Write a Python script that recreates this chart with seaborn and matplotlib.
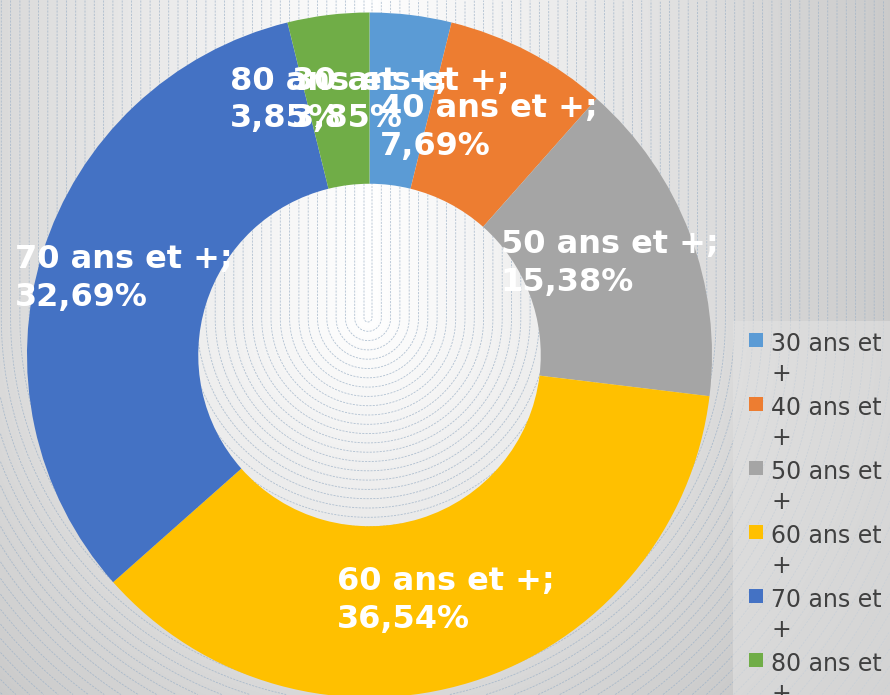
import numpy as np
import matplotlib
matplotlib.use("Agg")
import matplotlib.pyplot as plt
from matplotlib.patches import Rectangle
import seaborn as sns

# ---- data ----
categories = ["30 ans et +", "40 ans et +", "50 ans et +", "60 ans et +", "70 ans et +", "80 ans et +"]
shares = [3.85, 7.69, 15.38, 36.54, 32.69, 3.85]
colors = ["#5B9BD5", "#ED7D31", "#A5A5A5", "#FFC000", "#4472C4", "#70AD47"]

sns.set_theme(style="white")
plt.rcParams["font.family"] = ["DejaVu Sans"]
palette = sns.color_palette(colors)

W, H = 890, 695
fig = plt.figure(figsize=(W / 100, H / 100), dpi=100)

# ---- background: gradient with dashed seams ----
bg = fig.add_axes([0, 0, 1, 1])
bg.set_xlim(0, W)
bg.set_ylim(H, 0)
bg.axis("off")
yy, xx = np.mgrid[0:H, 0:W] + 0.5
fx, fy = 368, 318
f = np.sqrt((xx - fx) ** 2 + np.clip(yy - fy, 0, None) ** 2)
v = np.clip((255 - 0.1 * f) / 255, 0, 1)
bg.imshow(np.dstack([v, v, v]), extent=(0, W, H, 0), interpolation="bilinear", aspect="auto")
cs = bg.contour(xx, yy, f, levels=np.arange(4, 900, 9.3), colors="#9fb3c8", linewidths=0.6, alpha=0.8)
cs.set_linestyle((0, (2.5, 1.5)))

# ---- donut ----
ax = fig.add_axes([27 / W, -2.5 / H, 685 / W, 685 / H])
labels = [f"{c};\n{s:.2f}%".replace(".", ",") for c, s in zip(categories, shares)]
wedges, texts = ax.pie(
    shares,
    colors=palette,
    startangle=90,
    counterclock=False,
    radius=1,
    wedgeprops=dict(width=0.5, linewidth=0),
    labels=labels,
    labeldistance=0.75,
    textprops=dict(color="white", fontsize=23, fontweight="bold"),
)
for t in texts:
    t.set_ha("center")
    t.set_va("center")
    t.set_multialignment("left")
    t.set_linespacing(1.29)
ax.set_xlim(-1, 1)
ax.set_ylim(-1, 1)
ax.axis("off")

# ---- legend ----
lg = fig.add_axes([0, 0, 1, 1])
lg.set_xlim(0, W)
lg.set_ylim(H, 0)
lg.axis("off")
lg.patch.set_alpha(0)
lg.add_patch(Rectangle((733, 321), 200, 400, facecolor="#e2e2e2", alpha=0.6,
                       edgecolor="none"))
for i, (c, col) in enumerate(zip(categories, palette)):
    y0 = 333 + 64 * i
    lg.add_patch(Rectangle((749, y0), 14, 14, facecolor=col, edgecolor="none"))
    lg.text(771, y0 - 1, c.replace(" +", "\n+"), fontsize=17, color="#404040",
            ha="left", va="top", linespacing=1.32)

fig.savefig("out.png", dpi=100)
